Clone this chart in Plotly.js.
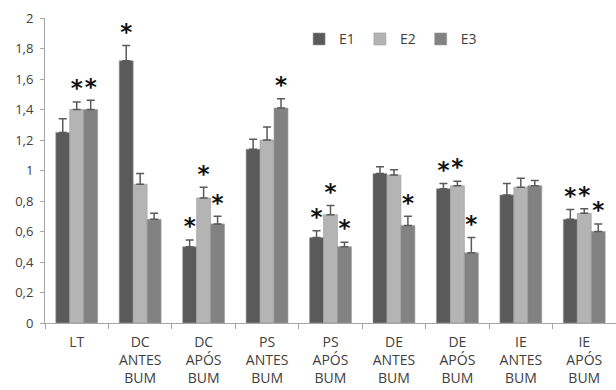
<!DOCTYPE html>
<html>
<head>
<meta charset="utf-8">
<script src="https://cdn.plot.ly/plotly-3.0.1.min.js"></script>
<style>html,body{margin:0;padding:0;background:#fff;}#chart{width:616px;height:390px;}</style>
</head>
<body>
<div id="chart"></div>
<script>
const categories = ["LT", "DC<br>ANTES<br>BUM", "DC<br>APÓS<br>BUM", "PS<br>ANTES<br>BUM", "PS<br>APÓS<br>BUM", "DE<br>ANTES<br>BUM", "DE<br>APÓS<br>BUM", "IE<br>ANTES<br>BUM", "IE<br>APÓS<br>BUM"];
const seriesNames = ["E1", "E2", "E3"];
const e1 = [1.25, 1.72, 0.50, 1.14, 0.56, 0.98, 0.88, 0.84, 0.68];
const e2 = [1.40, 0.91, 0.82, 1.20, 0.71, 0.97, 0.90, 0.89, 0.72];
const e3 = [1.40, 0.68, 0.65, 1.41, 0.50, 0.64, 0.46, 0.90, 0.60];
const e1err = [0.09, 0.10, 0.045, 0.065, 0.045, 0.045, 0.035, 0.075, 0.065];
const e2err = [0.05, 0.07, 0.07, 0.085, 0.06, 0.035, 0.03, 0.06, 0.03];
const e3err = [0.06, 0.04, 0.05, 0.06, 0.03, 0.06, 0.10, 0.035, 0.05];
const e1sig = [0, 1, 1, 0, 1, 0, 1, 0, 1];
const e2sig = [1, 0, 1, 0, 1, 0, 1, 0, 1];
const e3sig = [1, 0, 1, 1, 1, 1, 1, 0, 1];
const yTicks = [0, 0.2, 0.4, 0.6, 0.8, 1, 1.2, 1.4, 1.6, 1.8, 2];

const colors = ["#5a5a5a", "#b4b4b4", "#828282"];
const vals = [e1, e2, e3];
const errs = [e1err, e2err, e3err];
const sigs = [e1sig, e2sig, e3sig];

const traces = [];
for (let i = 0; i < 3; i++) {
  traces.push({
    type: "bar", name: seriesNames[i], x: categories, y: vals[i],
    offsetgroup: String(i), alignmentgroup: "a",
    marker: {color: colors[i], line: {color: "#9a9a9a", width: 0.6}},
    error_y: {type: "data", array: errs[i], arrayminus: vals[i].map(() => 0), symmetric: false,
              color: "#5a5a5a", thickness: 1.5, width: 4},
    hoverinfo: "none"
  });
}
for (let i = 0; i < 3; i++) {
  traces.push({
    type: "scatter", mode: "text", x: categories,
    y: vals[i].map((v, k) => sigs[i][k] ? v + errs[i][k] : null),
    text: sigs[i].map(s => s ? "<b>*</b>" : ""),
    textposition: "top center",
    textfont: {family: "DejaVu Sans", size: 23, color: "#111"},
    offsetgroup: String(i), alignmentgroup: "a",
    showlegend: false, hoverinfo: "none", cliponaxis: false
  });
}

const layout = {
  width: 616, height: 390,
  margin: {l: 45, r: 0, t: 18, b: 67},
  paper_bgcolor: "#fff", plot_bgcolor: "#fff",
  barmode: "group", bargap: 0.34, bargroupgap: 0,
  scattermode: "group", scattergap: 0.34,
  separators: ",.",
  font: {family: "Open Sans", size: 12, color: "#404040"},
  showlegend: true,
  legend: {orientation: "h", x: 0.445, y: 0.93, xanchor: "left", yanchor: "middle",
           font: {size: 14, color: "#404040"}, bgcolor: "rgba(0,0,0,0)", itemwidth: 30},
  xaxis: {type: "category", showline: true, linecolor: "#a6a6a6", linewidth: 1,
          ticks: "outside", tickson: "boundaries", ticklen: 5, tickcolor: "#a6a6a6",
          ticklabelstandoff: 6,
          showgrid: false, zeroline: false, tickfont: {size: 14, color: "#404040"}, fixedrange: true},
  yaxis: {range: [0, 2], tickvals: yTicks, showline: true, linecolor: "#a6a6a6", linewidth: 1,
          ticks: "outside", ticklen: 4, tickcolor: "#a6a6a6", showgrid: false, zeroline: false,
          ticklabelstandoff: 4,
          tickfont: {size: 13, color: "#404040"}, fixedrange: true}
};

Plotly.newPlot("chart", traces, layout, {displayModeBar: false, staticPlot: true});
</script>
</body>
</html>
